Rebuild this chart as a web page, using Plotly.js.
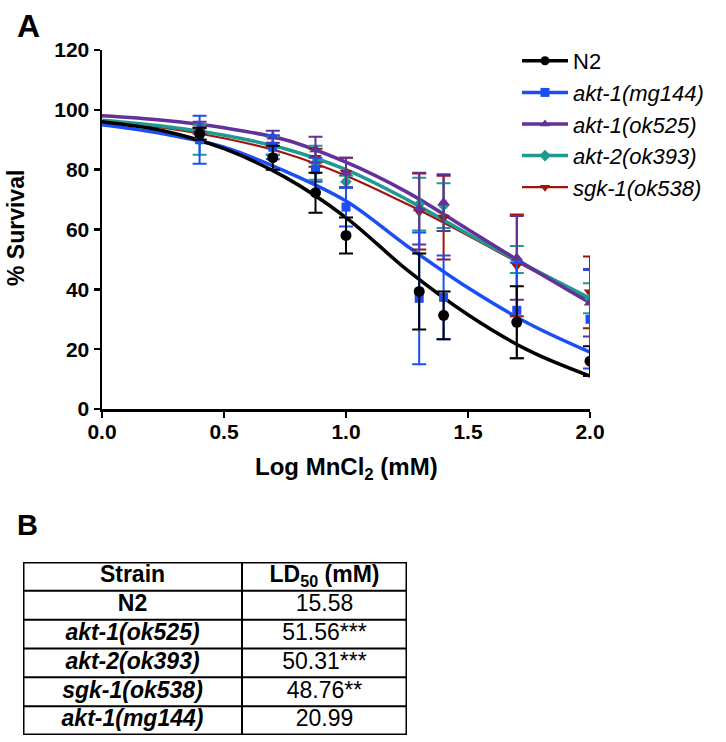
<!DOCTYPE html>
<html>
<head>
<meta charset="utf-8">
<script src="https://cdn.plot.ly/plotly-3.0.1.min.js"></script>
<style>html,body{margin:0;padding:0;background:#fff;}#chart{width:726px;height:742px;}</style>
</head>
<body>
<div id="chart"></div>
<script>
// ---- data ----
const doseX = [0.4, 0.7, 0.875, 1.0, 1.3, 1.4, 1.7, 2.0];
const curveX = [0, 0.25, 0.5, 0.75, 1.0, 1.25, 1.5, 1.75, 2.0];

const n2Y      = [92, 84, 72.3, 58, 39.3, 31.3, 29, 16];
const n2Err    = [2, 4, 6.7, 6, 12.7, 8, 12, 5];
const n2Fit    = [96, 93, 87, 77.5, 64, 46.5, 31.5, 19.5, 11];

const mg144Y   = [90, 87.5, 80, 67.5, 37, 37.3, 33, 30];
const mg144Err = [8, 4, 4, 6.5, 22, 14, 16, 16.5];
const mg144Fit = [95, 92, 87.5, 79.5, 69.5, 54.5, 40.5, 28.5, 19];

const ok525Y   = [94, 91, 86.7, 79, 67, 69, 50.5, 35.5];
const ok525Err = [2, 2, 4.3, 5, 12, 9.5, 14, 11.3];
const ok525Fit = [98, 96.5, 94, 90, 82.5, 72.5, 60, 47.5, 35.5];

const ok393Y   = [90, 88, 82.3, 76, 68.5, 68, 50, 37];
const ok393Err = [5, 3, 5.7, 2, 8.8, 7.5, 4.5, 5];
const ok393Fit = [96.5, 94.5, 91.5, 87, 80, 70, 58.5, 47.5, 37];

const ok538Y   = [92, 88, 84, 79, 66, 64, 48, 39];
const ok538Err = [2, 3, 3, 5, 12.7, 14, 17, 12];
const ok538Fit = [96, 94, 90.5, 85.5, 78, 68.5, 58, 47, 36.5];

const tableHeader = ['Strain', 'LD<sub>50</sub> (mM)'];
const strainNames = ['N2', 'akt-1(ok525)', 'akt-2(ok393)', 'sgk-1(ok538)', 'akt-1(mg144)'];
const ld50Values  = ['15.58', '51.56***', '50.31***', '48.76**', '20.99'];

const xTicks = [0, 0.5, 1.0, 1.5, 2.0];
const yTicks = [0, 20, 40, 60, 80, 100, 120];

// ---- styling ----
const FONT = 'Arial, Liberation Sans, sans-serif';
const series = [
  {label: 'N2', y: n2Y, err: n2Err, fit: n2Fit, color: '#000000', symbol: 'circle', size: 11, lw: 3.5},
  {label: '<i>akt-1(mg144)</i>', y: mg144Y, err: mg144Err, fit: mg144Fit, color: '#1b4ff5', symbol: 'square', size: 9, lw: 3.5},
  {label: '<i>akt-1(ok525)</i>', y: ok525Y, err: ok525Err, fit: ok525Fit, color: '#62319a', symbol: 'triangle-up', size: 11, lw: 3.5},
  {label: '<i>akt-2(ok393)</i>', y: ok393Y, err: ok393Err, fit: ok393Fit, color: '#1f9a90', symbol: 'diamond', size: 9, lw: 3.5},
  {label: '<i>sgk-1(ok538)</i>', y: ok538Y, err: ok538Err, fit: ok538Fit, color: '#a0140c', symbol: 'triangle-down', size: 11, lw: 2.2}
];
const drawOrder = [4, 3, 2, 1, 0];

const W = 726, H = 742;
const px = v => v / W, py = v => 1 - v / H;

const traces = [];
drawOrder.forEach(i => {
  const s = series[i];
  traces.push({
    type: 'scatter', mode: 'lines', x: curveX, y: s.fit,
    line: {color: s.color, width: s.lw, shape: 'spline', smoothing: 1},
    showlegend: false, hoverinfo: 'skip', xaxis: 'x', yaxis: 'y'
  });
});
drawOrder.forEach(i => {
  const s = series[i];
  traces.push({
    type: 'scatter', mode: 'markers', x: doseX, y: s.y,
    marker: {color: s.color, symbol: s.symbol, size: s.size},
    error_y: {type: 'data', array: s.err, visible: true, color: s.color, thickness: 2, width: 7},
    showlegend: false, xaxis: 'x', yaxis: 'y'
  });
});
series.forEach((s, k) => {
  traces.push({
    type: 'scatter', mode: 'lines+markers', x: [null], y: [null], name: s.label,
    legendgroup: 'g' + k,
    line: {color: s.color, width: s.lw},
    marker: {color: s.color, symbol: s.symbol, size: Math.min(s.size, 9)},
    showlegend: true, xaxis: 'x', yaxis: 'y'
  });
});

// ---- table (panel B) drawn as text on its own axes ----
const colWidths = [219, 165];
const colEdges = [0, colWidths[0], colWidths[0] + colWidths[1]];
const colCenters = [colWidths[0] / 2, colWidths[0] + colWidths[1] / 2];
const nRows = strainNames.length + 1;
const tX = [], tY = [], tT = [];
tableHeader.forEach((h, c) => { tX.push(colCenters[c]); tY.push(0.5); tT.push('<b>' + h + '</b>'); });
strainNames.forEach((n, r) => {
  tX.push(colCenters[0]); tY.push(r + 1.5);
  tT.push(n === 'N2' ? '<b>' + n + '</b>' : '<b><i>' + n + '</i></b>');
  tX.push(colCenters[1]); tY.push(r + 1.5); tT.push(ld50Values[r]);
});
traces.push({
  type: 'scatter', mode: 'text', x: tX, y: tY, text: tT,
  textposition: 'middle center', textfont: {family: FONT, size: 23, color: '#000'},
  showlegend: false, hoverinfo: 'skip', xaxis: 'x2', yaxis: 'y2', cliponaxis: false
});

const shapes = [];
for (let r = 1; r < nRows; r++) {
  shapes.push({type: 'line', xref: 'x2', yref: 'y2', x0: colEdges[0], x1: colEdges[2], y0: r, y1: r, line: {color: '#000', width: 2}});
}
shapes.push({type: 'line', xref: 'x2', yref: 'y2', x0: colEdges[1], x1: colEdges[1], y0: 0, y1: nRows, line: {color: '#000', width: 2}});
shapes.push({type: 'rect', xref: 'x2', yref: 'y2', x0: colEdges[0], x1: colEdges[2], y0: 0, y1: nRows, line: {color: '#000', width: 3}});

const layout = {
  width: W, height: H,
  margin: {l: 0, r: 0, t: 0, b: 0},
  paper_bgcolor: '#fff', plot_bgcolor: '#fff',
  font: {family: FONT, color: '#000'},
  showlegend: true,
  xaxis: {
    domain: [px(102), px(590)], range: [0, 2], tickvals: xTicks, ticktext: xTicks.map(v => v.toFixed(1)),
    showline: true, linewidth: 2.5, linecolor: '#000', ticks: 'outside', ticklen: 6, tickwidth: 2.5, tickcolor: '#000',
    showgrid: false, zeroline: false, fixedrange: true, ticklabelstandoff: -4,
    tickfont: {family: FONT, size: 21, weight: 'bold', color: '#000'}
  },
  yaxis: {
    domain: [py(409), py(50)], range: [0, 120], tickvals: yTicks,
    showline: true, linewidth: 2.5, linecolor: '#000', ticks: 'outside', ticklen: 6, tickwidth: 2.5, tickcolor: '#000',
    showgrid: false, zeroline: false, fixedrange: true,
    tickfont: {family: FONT, size: 21, weight: 'bold', color: '#000'}
  },
  xaxis2: {domain: [px(23), px(407)], range: [colEdges[0], colEdges[2]], visible: false, fixedrange: true, anchor: 'y2'},
  yaxis2: {domain: [py(735), py(562)], range: [nRows, 0], visible: false, fixedrange: true, anchor: 'x2'},
  legend: {
    x: px(517), y: py(40), xanchor: 'left', yanchor: 'top',
    font: {family: FONT, size: 22, color: '#000'},
    bgcolor: 'rgba(0,0,0,0)', traceorder: 'grouped', tracegroupgap: 0, itemwidth: 46
  },
  shapes: shapes,
  annotations: [
    {text: '<b>A</b>', xref: 'paper', yref: 'paper', x: px(15), y: py(6), xanchor: 'left', yanchor: 'top', showarrow: false, font: {family: FONT, size: 32, color: '#000'}},
    {text: '<b>B</b>', xref: 'paper', yref: 'paper', x: px(15), y: py(507), xanchor: 'left', yanchor: 'top', showarrow: false, font: {family: FONT, size: 29, color: '#000'}},
    {text: '<b>% Survival</b>', xref: 'paper', yref: 'paper', x: px(16), y: py(228), xanchor: 'center', yanchor: 'middle', textangle: -90, showarrow: false, font: {family: FONT, size: 23, color: '#000'}},
    {text: '<b>Log MnCl<sub>2</sub> (mM)</b>', xref: 'paper', yref: 'paper', x: px(346), y: py(468), xanchor: 'center', yanchor: 'middle', showarrow: false, font: {family: FONT, size: 24, color: '#000'}}
  ]
};

Plotly.newPlot('chart', traces, layout, {displayModeBar: false, staticPlot: true});
</script>
</body>
</html>
